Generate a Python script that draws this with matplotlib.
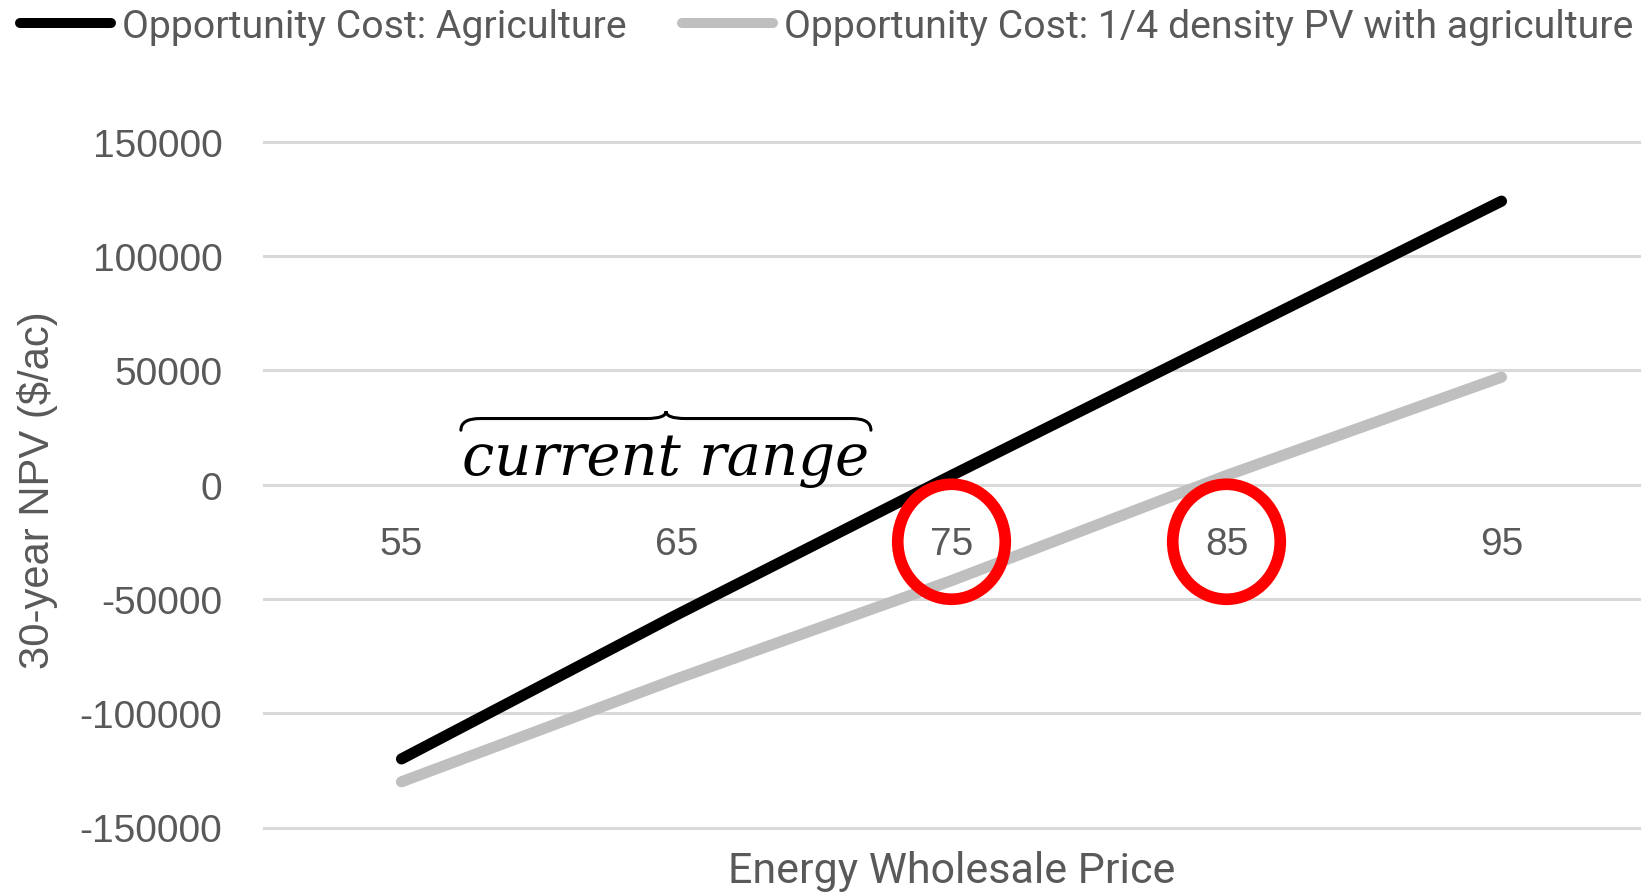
import matplotlib
matplotlib.use("Agg")
import matplotlib.pyplot as plt
from matplotlib import font_manager
from matplotlib.lines import Line2D
from matplotlib.patches import Ellipse, PathPatch
from matplotlib.path import Path

# ---------------- data ----------------
prices = ["55", "65", "75", "85", "95"]
agriculture = [-120000, -57000, 4000, 64000, 124000]
pv_quarter = [-130000, -85000, -42000, 4000, 47000]
y_ticks = [-150000, -100000, -50000, 0, 50000, 100000, 150000]
series_names = ["Opportunity Cost: Agriculture",
                "Opportunity Cost: 1/4 density PV with agriculture"]
x_title = "Energy Wholesale Price"
y_title = "30-year NPV ($/ac)"
note = "current range"
highlight = ["75", "85"]

# ---------------- style ----------------
W, H, DPI = 1644, 895, 100
TXT = "#595959"
GRID = "#D9D9D9"
installed = {f.name for f in font_manager.fontManager.ttflist}
sans_ui = "Roboto" if "Roboto" in installed else "DejaVu Sans"
sans_tick = "Liberation Sans" if "Liberation Sans" in installed else "DejaVu Sans"
sans_narrow = "Liberation Sans Narrow" if "Liberation Sans Narrow" in installed else sans_tick
serif_it = "DejaVu Serif"

fig = plt.figure(figsize=(W / DPI, H / DPI), dpi=DPI)
renderer = fig.canvas.get_renderer()


def fit(s, family, target_px, style="normal", base=20.0):
    t = fig.text(0, 0, s, fontsize=base, family=family, style=style)
    w = t.get_window_extent(renderer).width
    t.remove()
    return base * target_px / w


ax = fig.add_axes([264 / W, 1 - 828.5 / H, (1639 - 264) / W, (828.5 - 142.7) / H])
x = list(range(len(prices)))

ax.plot(x, agriculture, color="#000000", lw=8, solid_capstyle="round",
        solid_joinstyle="round", zorder=3)
ax.plot(x, pv_quarter, color="#BFBFBF", lw=8, solid_capstyle="round",
        solid_joinstyle="round", zorder=2)

ax.set_xlim(-0.5, len(prices) - 0.5)
ax.set_ylim(y_ticks[0], y_ticks[-1])
ax.set_yticks(y_ticks)
ax.set_yticklabels([str(v) for v in y_ticks])
ax.set_xticks(x)
ax.set_xticklabels(prices)
ax.spines["bottom"].set_position(("data", 0))
for s in ax.spines.values():
    s.set_visible(False)
ax.grid(axis="y", color=GRID, lw=2.2, zorder=0)
ax.set_axisbelow(True)
for gl in ax.get_ygridlines():
    gl.set_clip_on(False)
ax.tick_params(axis="y", length=0, pad=30, labelsize=28, labelcolor=TXT)
ax.tick_params(axis="x", length=0, pad=29.5, labelsize=28, labelcolor=TXT)
for lab in ax.get_xticklabels() + ax.get_yticklabels():
    lab.set_family(sans_tick)

# highlight circles around tick labels
for h in highlight:
    i = prices.index(h)
    ax.add_patch(Ellipse((i, -25000), 0.391, 50300, fill=False,
                         edgecolor="#FF0000", lw=8.4, zorder=5, clip_on=False))

# "current range" note with over-brace
x0, x1, xt = 0.216, 1.707, 0.962
yl, ye, ytp = 28900, 23800, 32100
r = 0.07
verts = [(x0, ye), (x0, yl), (x0 + r, yl), (xt - r, yl), (xt, yl), (xt, ytp),
         (xt, yl), (xt + r, yl), (x1 - r, yl), (x1, yl), (x1, ye)]
codes = [Path.MOVETO, Path.CURVE3, Path.CURVE3, Path.LINETO, Path.CURVE3, Path.CURVE3,
         Path.CURVE3, Path.CURVE3, Path.LINETO, Path.CURVE3, Path.CURVE3]
ax.add_patch(PathPatch(Path(verts, codes), fill=False, lw=2.2, color="black",
                       capstyle="round", zorder=4, clip_on=False))
fs_note = fit(note, serif_it, 406, style="italic")
ax.text(xt, 4800, note, ha="center", va="baseline", fontsize=fs_note,
        family=serif_it, style="italic", color="black", zorder=4)

# axis titles
fs_x = fit(x_title, sans_ui, 446)
fig.text(951.5 / W, 1 - 883.3 / H, x_title, ha="center", va="baseline",
         fontsize=fs_x, family=sans_ui, color=TXT)
fs_y = fit(y_title, sans_narrow, 357)
fig.text(37.5 / W, 1 - 490 / H, y_title, ha="center", va="center", rotation=90,
         fontsize=fs_y, family=sans_narrow, color=TXT)

# legend
fs_leg = 0.5 * (fit(series_names[0], sans_ui, 506) + fit(series_names[1], sans_ui, 841))
handles = [Line2D([], [], color="#000000", lw=7.2, solid_capstyle="round"),
           Line2D([], [], color="#BFBFBF", lw=7.2, solid_capstyle="round")]
fig.legend(handles, series_names, loc="center left",
           bbox_to_anchor=(19.7 / W, 1 - 27.3 / H), ncol=2, frameon=False,
           prop={"family": sans_ui, "size": fs_leg}, labelcolor=TXT,
           handlelength=65.5 / fs_leg, handletextpad=8.1 / fs_leg,
           columnspacing=40 / fs_leg, borderpad=0, borderaxespad=0)

fig.savefig("out.png", dpi=DPI)
